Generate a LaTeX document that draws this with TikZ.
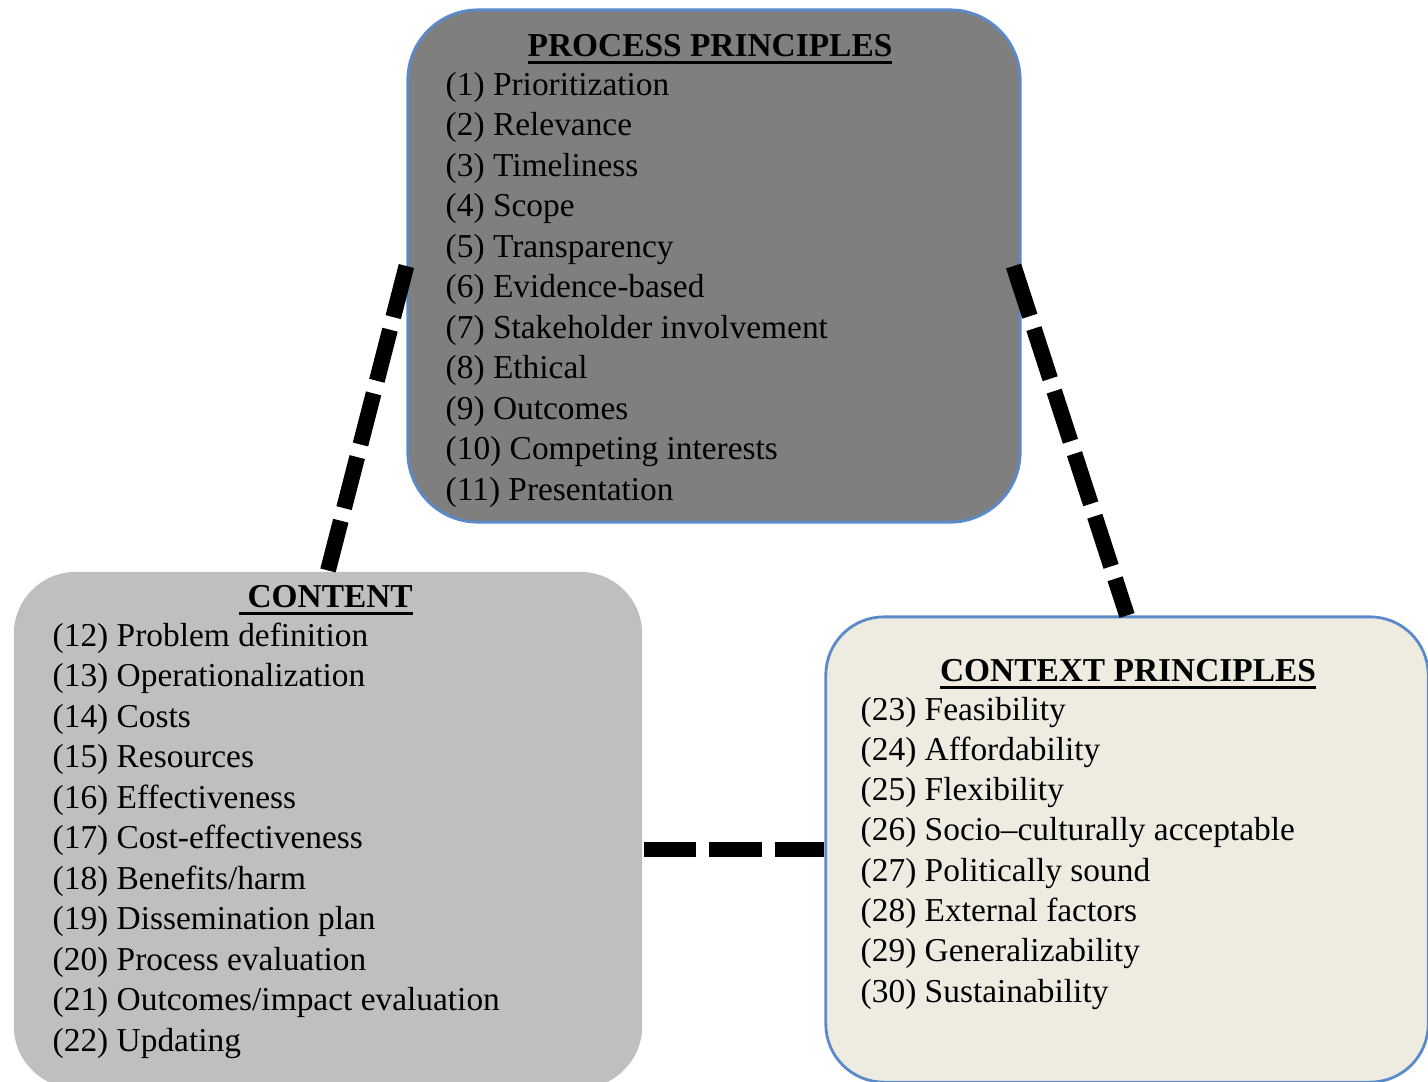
\documentclass[tikz,border=0pt]{standalone}
\usepackage{fontspec}
\setmainfont{Liberation Serif}
\usetikzlibrary{calc}
\newcommand\myul[1]{\setbox0\hbox{#1}\rlap{\rule[-2.2pt]{\wd0}{0.8pt}}\box0}
\definecolor{procfill}{HTML}{7F7F7F}
\definecolor{contfill}{HTML}{BFBFBF}
\definecolor{ctxfill}{HTML}{EEECE1}
\definecolor{boxblue}{HTML}{5B8ACB}
\begin{document}
\begin{tikzpicture}[x=0.01cm,y=-0.01cm,
  box/.style={rectangle, draw=boxblue, line width=0.8pt, inner sep=0},
  item/.style={anchor=base west, inner sep=0, font=\fontsize{9.5}{11.5}\selectfont},
  head/.style={anchor=base, inner sep=0, font=\fontsize{9.5}{11.5}\selectfont\bfseries},
  conn/.style={line width=4.5pt, dash pattern=on 15pt off 3.7pt}]
\useasboundingbox (0,0) rectangle (1428,1081);
\begin{scope}
\clip (0,0) rectangle (1428,1081);
\node[box, fill=procfill, rounded corners=0.7cm, minimum width=6.12cm, minimum height=5.12cm] (proc) at (714,266) {};
\node[box, draw=none, fill=contfill, rounded corners=0.62cm, minimum width=6.28cm, minimum height=5.16cm] (cont) at (328,830) {};
\node[box, fill=ctxfill, rounded corners=0.58cm, minimum width=6.02cm, minimum height=4.65cm] (ctx) at (1127,849.5) {};
\end{scope}
% titles
\node[head] (ptitle) at (710,56) {\myul{PROCESS PRINCIPLES}};
\node[head] (ctitle) at (326,607) {\myul{\ CONTENT}};
\node[head] (xtitle) at (1128,681) {\myul{CONTEXT PRINCIPLES}};
% process items
\foreach \t [count=\i] in {(1) Prioritization,(2) Relevance,(3) Timeliness,(4) Scope,(5) Transparency,(6) Evidence-based,(7) Stakeholder involvement,(8) Ethical,(9) Outcomes,(10) Competing interests,(11) Presentation}
  \node[item] (p\i) at (445,{95+40.5*(\i-1)}) {\t};
% content items
\foreach \t [count=\i] in {(12) Problem definition,(13) Operationalization,(14) Costs,(15) Resources,(16) Effectiveness,(17) Cost-effectiveness,(18) Benefits/harm,(19) Dissemination plan,(20) Process evaluation,(21) Outcomes/impact evaluation,(22) Updating}
  \node[item] (c\i) at (52,{646+40.5*(\i-1)}) {\t};
% context items
\foreach \t [count=\i] in {(23) Feasibility,(24) Affordability,(25) Flexibility,(26) Socio–culturally acceptable,(27) Politically sound,(28) External factors,(29) Generalizability,(30) Sustainability}
  \node[item] (x\i) at (860,{720+40.3*(\i-1)}) {\t};
% connectors
\draw[conn] (proc.west) -- (cont.north);
\draw[conn] ([xshift=-0.08cm]proc.east) -- (ctx.north);
\draw[conn] (cont.east |- ctx.west) -- (ctx.west);
\end{tikzpicture}
\end{document}
